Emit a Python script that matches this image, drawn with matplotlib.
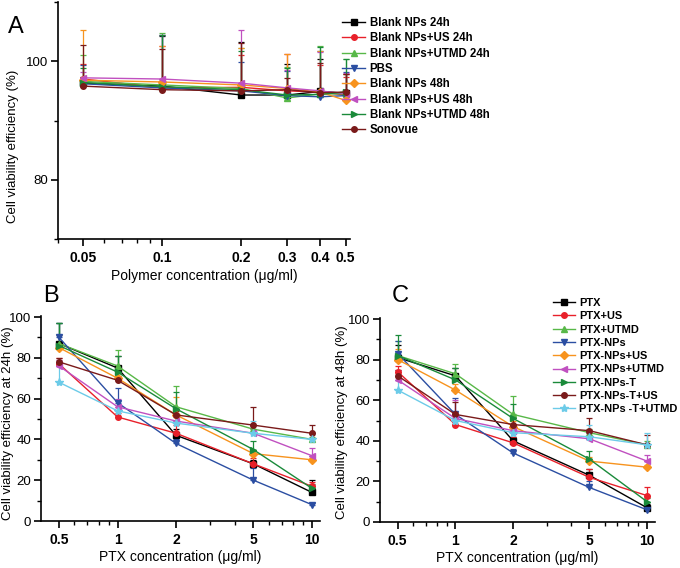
import numpy as np
import matplotlib
matplotlib.use('Agg')
import matplotlib.pyplot as plt
from matplotlib.ticker import FixedLocator, FixedFormatter, MultipleLocator, LogLocator, NullFormatter

plt.rcParams['font.family'] = ['Liberation Sans', 'DejaVu Sans']

# ---- panel A data ----
conc_a = [0.05, 0.1, 0.2, 0.3, 0.4, 0.5]
labels_a = ['Blank NPs 24h', 'Blank NPs+US 24h', 'Blank NPs+UTMD 24h', 'PBS',
            'Blank NPs 48h', 'Blank NPs+US 48h', 'Blank NPs+UTMD 48h', 'Sonovue']
blank_24h = [96.3, 95.8, 94.3, 94.3, 94.9, 94.6]
blank_us_24h = [97.0, 95.5, 95.6, 95.0, 94.8, 94.3]
blank_utmd_24h = [96.6, 96.0, 95.4, 93.8, 94.5, 94.5]
pbs = [96.2, 95.5, 95.0, 94.2, 94.0, 94.2]
blank_48h = [96.8, 96.5, 96.0, 95.4, 94.8, 93.4]
blank_us_48h = [97.2, 97.0, 96.3, 95.5, 95.0, 94.5]
blank_utmd_48h = [96.4, 95.7, 95.2, 94.3, 94.4, 94.8]
sonovue = [95.8, 95.2, 95.0, 95.2, 94.7, 94.8]
err_a = [
    [1.0, 8.5, 9.0, 5.2, 5.5, 3.2],
    [2.5, 7.0, 5.5, 6.2, 4.5, 3.0],
    [4.4, 8.7, 6.9, 5.2, 8.0, 5.8],
    [3.1, 9.0, 4.8, 4.2, 7.8, 4.0],
    [8.5, 6.0, 6.2, 5.8, 7.0, 4.5],
    [1.0, 7.4, 9.0, 3.0, 6.6, 3.5],
    [2.5, 8.8, 6.5, 4.5, 8.0, 5.5],
    [6.9, 6.9, 8.0, 2.0, 5.0, 3.0],
]
vals_a = [blank_24h, blank_us_24h, blank_utmd_24h, pbs,
          blank_48h, blank_us_48h, blank_utmd_48h, sonovue]

# ---- panels B / C data ----
conc_ptx = [0.5, 1, 2, 5, 10]
labels_ptx = ['PTX', 'PTX+US', 'PTX+UTMD', 'PTX-NPs', 'PTX-NPs+US',
              'PTX-NPs+UTMD', 'PTX-NPs-T', 'PTX-NPs-T+US', 'PTX-NPs -T+UTMD']
vals_24h = [
    [87, 75, 42, 28, 14],
    [77, 51, 43, 28, 17],
    [87, 76, 56, 45, 40],
    [90, 58, 38, 20, 8],
    [85, 70, 52, 33, 30],
    [76, 56, 49, 43, 32],
    [86, 73, 55, 35, 16],
    [78, 69, 52, 47, 43],
    [68, 54, 48, 43, 40],
]
err_24h = [
    [10, 6, 3, 2, 6],
    [3, 2, 4, 3, 2],
    [10, 8, 10, 2, 1],
    [7, 7, 2, 6, 1],
    [6, 5, 9, 2, 1],
    [3, 4, 2, 2, 4],
    [11, 8, 8, 4, 2],
    [2, 2, 2, 9, 4],
    [8, 5, 3, 6, 3],
]
vals_48h = [
    [81, 72, 40, 23, 7],
    [74, 48, 39, 22, 13],
    [82, 73, 53, 44, 38],
    [83, 53, 34, 17, 6],
    [80, 65, 47, 30, 27],
    [70, 51, 45, 41, 30],
    [82, 70, 51, 31, 10],
    [72, 53, 48, 45, 38],
    [65, 50, 44, 42, 38],
]
err_48h = [
    [6, 4, 2, 3, 2],
    [3, 2, 3, 4, 4],
    [7, 5, 9, 2, 2],
    [6, 8, 2, 3, 1],
    [5, 3, 3, 2, 1],
    [5, 9, 3, 3, 3],
    [10, 6, 7, 4, 2],
    [3, 6, 3, 6, 5],
    [5, 3, 4, 6, 6],
]

colors = ['#000000', '#e8202a', '#58b848', '#2b4ea2', '#f7931e',
          '#c050c0', '#1a8a3a', '#7a1a1a', '#6ccbe8']
markers_a = ['s', 'o', '^', 'v', 'D', '<', '>', 'o']
markers_ptx = ['s', 'o', '^', 'v', 'D', '<', '>', 'o', '*']


def draw(ax, x, vals, errs, labels, markers):
    for i, (v, e) in enumerate(zip(vals, errs)):
        c = colors[i]
        ms = 6 if markers[i] == '*' else 4
        ax.errorbar(x, v, yerr=[np.zeros(len(e)), e], fmt='none', ecolor=c,
                    elinewidth=0.9, capsize=2.5, capthick=0.9, zorder=2)
        ax.plot(x, v, color=c, marker=markers[i], ms=ms, lw=1.0,
                label=labels[i], zorder=3)


def style(ax, xticks, xlim, ylim, ymajor, yminor):
    ax.set_xscale('log')
    ax.set_xlim(*xlim)
    ax.set_ylim(*ylim)
    ax.xaxis.set_major_locator(FixedLocator(xticks))
    ax.xaxis.set_major_formatter(FixedFormatter([f'{t:g}' for t in xticks]))
    ax.xaxis.set_minor_locator(LogLocator(base=10, subs=np.arange(2, 10)))
    ax.xaxis.set_minor_formatter(NullFormatter())
    ax.yaxis.set_major_locator(MultipleLocator(ymajor))
    ax.yaxis.set_minor_locator(MultipleLocator(yminor))
    for s in ['top', 'right']:
        ax.spines[s].set_visible(False)
    for s in ['left', 'bottom']:
        ax.spines[s].set_linewidth(1.2)
    ax.tick_params(which='major', direction='out', length=5, width=1.2)
    ax.tick_params(axis='y', labelsize=9.5, pad=2)
    ax.tick_params(axis='x', labelsize=10)
    ax.tick_params(which='minor', direction='out', length=3, width=1.0)
    for lab in ax.get_xticklabels():
        lab.set_fontweight('bold')


fig = plt.figure(figsize=(6.8, 5.68), dpi=100)

# panel A
ax_a = fig.add_axes([58 / 680, 1 - 239 / 568, 292 / 680, 237 / 568])
draw(ax_a, conc_a, vals_a, err_a, labels_a, markers_a)
style(ax_a, conc_a, (0.04, 0.52), (70, 110), 20, 10)
ax_a.set_xlabel('Polymer concentration (\u03bcg/ml)', fontsize=10, labelpad=3)
ax_a.set_ylabel('Cell viability efficiency (%)', fontsize=9.5)
ax_a.yaxis.set_label_coords(-0.134, 0.39)
ax_a.legend(loc='upper left', bbox_to_anchor=(342 / 680, 1 - 17 / 568),
            bbox_transform=fig.transFigure, frameon=False, borderpad=0,
            borderaxespad=0, handlelength=2.0, handletextpad=0.4,
            labelspacing=0.29, prop={'weight': 'bold', 'size': 8.3})

# panel B
ax_b = fig.add_axes([41 / 680, 1 - 521 / 568, 279 / 680, 205 / 568])
draw(ax_b, conc_ptx, vals_24h, err_24h, labels_ptx, markers_ptx)
style(ax_b, conc_ptx, (0.404, 11), (0, 100.5), 20, 10)
ax_b.set_xlabel('PTX concentration (\u03bcg/ml)', fontsize=10, labelpad=2)
ax_b.set_ylabel('Cell viability efficiency at 24h (%)', fontsize=9.5)
ax_b.yaxis.set_label_coords(-0.097, 0.475)

# panel C
ax_c = fig.add_axes([380 / 680, 1 - 522 / 568, 275 / 680, 204 / 568])
draw(ax_c, conc_ptx, vals_48h, err_48h, labels_ptx, markers_ptx)
style(ax_c, conc_ptx, (0.404, 11), (0, 100.5), 20, 10)
ax_c.set_xlabel('PTX concentration (\u03bcg/ml)', fontsize=10, labelpad=2)
ax_c.set_ylabel('Cell viability efficiency at 48h (%)', fontsize=9.5)
ax_c.yaxis.set_label_coords(-0.116, 0.49)
ax_c.legend(loc='upper left', bbox_to_anchor=(553 / 680, 1 - 298 / 568),
            bbox_transform=fig.transFigure, frameon=False, borderpad=0,
            borderaxespad=0, handlelength=2.0, handletextpad=0.35,
            labelspacing=0.3, prop={'weight': 'bold', 'size': 7.9})

fig.text(8 / 680, 1 - 33 / 568, 'A', fontsize=17)
fig.text(43 / 680, 1 - 302 / 568, 'B', fontsize=17)
fig.text(392 / 680, 1 - 302 / 568, 'C', fontsize=17)

fig.savefig('out.png', dpi=100)
